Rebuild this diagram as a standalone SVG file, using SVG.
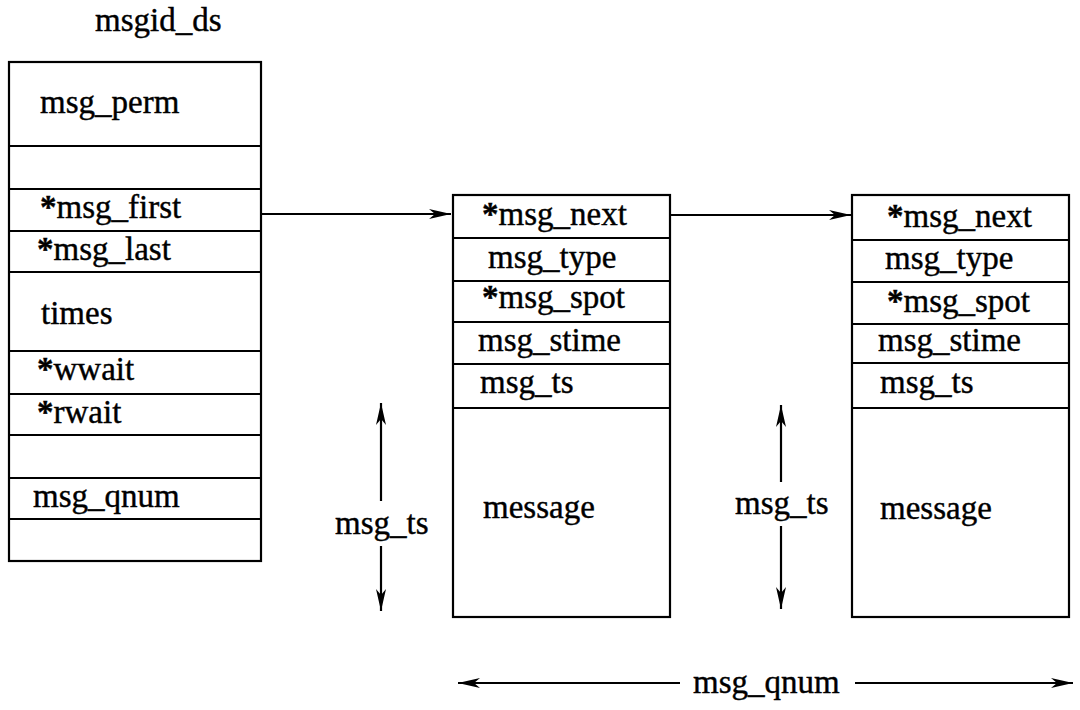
<svg xmlns="http://www.w3.org/2000/svg" width="1080" height="710" viewBox="0 0 1080 710">
<style>
.box{fill:#fff;stroke:#000;stroke-width:2.2}
.div{stroke:#000;stroke-width:2.2}
.t{font-family:"Liberation Serif","Times New Roman",serif;font-size:33px;fill:#000;stroke:#000;stroke-width:0.4}
.a{font-weight:bold}
.c{stroke:#000;stroke-width:2.2;fill:none}
</style>
<defs>
<marker id="ah" viewBox="0 0 22 11" markerWidth="22" markerHeight="11" markerUnits="userSpaceOnUse" refX="22" refY="5.5" orient="auto">
<path d="M0,0.5 L22,5.5 L0,10.5 L6,5.5 z" fill="#000"/>
</marker>
</defs>
<rect width="1080" height="710" fill="#fff"/>
<text class="t" x="95" y="31">msgid_ds</text>
<g id="msgid_ds">
<rect class="box" x="9" y="62" width="252" height="499"/>
<line class="div" x1="9" y1="146" x2="261" y2="146"/>
<line class="div" x1="9" y1="189" x2="261" y2="189"/>
<line class="div" x1="9" y1="231" x2="261" y2="231"/>
<line class="div" x1="9" y1="272" x2="261" y2="272"/>
<line class="div" x1="9" y1="351" x2="261" y2="351"/>
<line class="div" x1="9" y1="394" x2="261" y2="394"/>
<line class="div" x1="9" y1="435" x2="261" y2="435"/>
<line class="div" x1="9" y1="478" x2="261" y2="478"/>
<line class="div" x1="9" y1="519" x2="261" y2="519"/>
<text class="t" x="40" y="113">msg_perm</text>
<text class="t" x="40" y="218"><tspan class="a">*</tspan>msg_first</text>
<text class="t" x="37" y="260"><tspan class="a">*</tspan>msg_last</text>
<text class="t" x="41" y="324">times</text>
<text class="t" x="37" y="380"><tspan class="a">*</tspan>wwait</text>
<text class="t" x="37" y="423"><tspan class="a">*</tspan>rwait</text>
<text class="t" x="33" y="507">msg_qnum</text>
</g>
<g id="msg1">
<rect class="box" x="453" y="195" width="217" height="422"/>
<line class="div" x1="453" y1="238" x2="670" y2="238"/>
<line class="div" x1="453" y1="281" x2="670" y2="281"/>
<line class="div" x1="453" y1="322" x2="670" y2="322"/>
<line class="div" x1="453" y1="364" x2="670" y2="364"/>
<line class="div" x1="453" y1="408" x2="670" y2="408"/>
<text class="t" x="482" y="225"><tspan class="a">*</tspan>msg_next</text>
<text class="t" x="488" y="268">msg_type</text>
<text class="t" x="482" y="308"><tspan class="a">*</tspan>msg_spot</text>
<text class="t" x="478" y="351">msg_stime</text>
<text class="t" x="480" y="393">msg_ts</text>
<text class="t" x="483" y="518">message</text>
</g>
<g id="msg2">
<rect class="box" x="852" y="195" width="217" height="422"/>
<line class="div" x1="852" y1="240" x2="1069" y2="240"/>
<line class="div" x1="852" y1="282" x2="1069" y2="282"/>
<line class="div" x1="852" y1="324" x2="1069" y2="324"/>
<line class="div" x1="852" y1="363" x2="1069" y2="363"/>
<line class="div" x1="852" y1="408" x2="1069" y2="408"/>
<text class="t" x="887" y="227"><tspan class="a">*</tspan>msg_next</text>
<text class="t" x="885" y="269">msg_type</text>
<text class="t" x="887" y="312"><tspan class="a">*</tspan>msg_spot</text>
<text class="t" x="878" y="351">msg_stime</text>
<text class="t" x="880" y="393">msg_ts</text>
<text class="t" x="880" y="519">message</text>
</g>
<g id="connectors">
<path class="c" d="M261,214 L451,214" marker-end="url(#ah)"/>
<path class="c" d="M670,215 L851,215" marker-end="url(#ah)"/>
<path class="c" d="M381,501 L381,403" marker-end="url(#ah)"/>
<path class="c" d="M381,546 L381,611" marker-end="url(#ah)"/>
<path class="c" d="M781,482 L781,405" marker-end="url(#ah)"/>
<path class="c" d="M781,526 L781,609" marker-end="url(#ah)"/>
<path class="c" d="M680,683 L458,683" marker-end="url(#ah)"/>
<path class="c" d="M855,683 L1073,683" marker-end="url(#ah)"/>
</g>
<text class="t" x="335" y="534">msg_ts</text>
<text class="t" x="735" y="514">msg_ts</text>
<text class="t" x="693" y="693">msg_qnum</text>
</svg>
